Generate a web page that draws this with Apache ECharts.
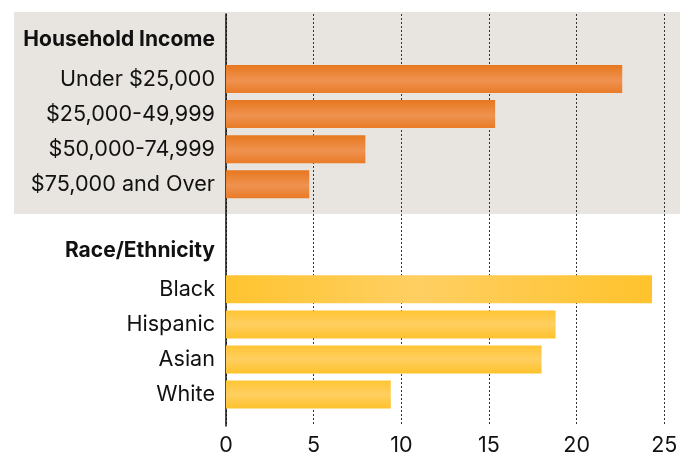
<!DOCTYPE html>
<html><head><meta charset="utf-8">
<script src="https://cdn.jsdelivr.net/npm/echarts@6/dist/echarts.min.js"></script>
<style>html,body{margin:0;padding:0;background:#fff}#c{width:691px;height:457px}</style>
</head><body><div id="c"></div>
<script>
var categories = ['Household Income','Under $25,000','$25,000-49,999','$50,000-74,999','$75,000 and Over','','Race/Ethnicity','Black','Hispanic','Asian','White'];
var headers = ['Household Income','Race/Ethnicity'];
var incomeValues = [null,22.6,15.35,7.95,4.75,null,null,null,null,null,null];
var raceValues = [null,null,null,null,null,null,null,24.3,18.8,18.0,9.4];
var xTicks = [0,5,10,15,20,25];

var FONT = 'Inter';
var orange = {type:'linear',x:0,y:0,x2:0,y2:1,colorStops:[
  {offset:0,color:'#E7781F'},{offset:0.55,color:'#EF9250'},{offset:1,color:'#E97B27'}]};
var yellowV = {type:'linear',x:0,y:0,x2:0,y2:1,colorStops:[
  {offset:0,color:'#FFC534'},{offset:0.5,color:'#FFCF60'},{offset:1,color:'#FEC22C'}]};
var yellowH = {type:'linear',x:0,y:0,x2:1,y2:0,colorStops:[
  {offset:0,color:'#FFC42F'},{offset:0.45,color:'#FFCF62'},{offset:1,color:'#FFC32D'}]};

var raceData = raceValues.map(function(v,i){
  if (v === null) return null;
  return {value:v, itemStyle:{color: categories[i]==='Black' ? yellowH : yellowV}};
});

var chart = echarts.init(document.getElementById('c'), null, {renderer:'canvas'});
chart.setOption({
  backgroundColor:'#ffffff',
  animation:false,
  textStyle:{fontFamily:FONT},
  graphic:[{type:'rect', z:-10, shape:{x:14,y:12,width:666,height:202}, style:{fill:'#E8E5E0'}}],
  grid:[
    {left:226, right:26.7, top:14, bottom:31, containLabel:false},
    {left:226, right:26.7, top:26.5, bottom:45, containLabel:false}
  ],
  xAxis:[
    {type:'value', gridIndex:0, min:0, max:25, interval:5,
     axisLine:{show:false}, axisTick:{show:false},
     axisLabel:{color:'#111', fontSize:21.5, fontFamily:FONT, margin:9,
       formatter:function(v){return xTicks.indexOf(v)>=0? String(v):'';}},
     splitLine:{show:true, lineStyle:{type:[2,2], color:'#333', width:1}}},
    {type:'value', gridIndex:1, min:0, max:25, show:false}
  ],
  yAxis:[
    {type:'value', gridIndex:0, min:0, max:1, axisLabel:{show:false}, axisTick:{show:false},
     splitLine:{show:false}, axisLine:{show:true, lineStyle:{color:'#111', width:1.5}}},
    {type:'category', gridIndex:1, data:categories, inverse:true,
     axisLine:{show:false}, axisTick:{show:false}, splitLine:{show:false},
     axisLabel:{margin:11, fontSize:21.6, fontFamily:FONT, color:'#111', align:'right',
       formatter:function(v){ return headers.indexOf(v)>=0 ? '{h|'+v+'}' : v; },
       rich:{h:{fontWeight:'bold', fontSize:21, fontFamily:FONT, color:'#111', padding:[0,0,8,0]}}}}
  ],
  series:[
    {type:'bar', xAxisIndex:1, yAxisIndex:1, data:incomeValues, barWidth:28, barGap:'-100%',
     itemStyle:{color:orange}},
    {type:'bar', xAxisIndex:1, yAxisIndex:1, data:raceData, barWidth:28, barGap:'-100%',
     itemStyle:{color:'#FFC534'}}
  ]
});
</script></body></html>
